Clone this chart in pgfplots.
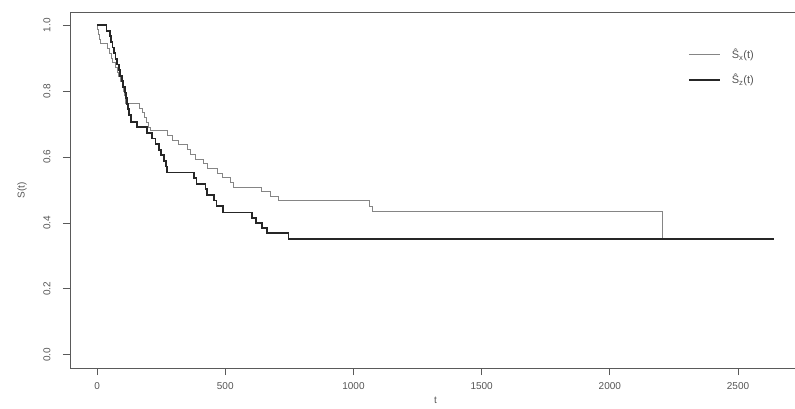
\documentclass[border=0pt]{standalone}
\usepackage{fontspec}
\setmainfont{Liberation Sans}
\usepackage{pgfplots}
\usepackage{pgfplotstable}
\pgfplotsset{compat=1.18}

\pgfplotstableread{
t S
0 1.000
2 0.986
5 0.971
9 0.957
15 0.943
40 0.929
48 0.914
55 0.900
62 0.886
70 0.871
78 0.857
85 0.843
92 0.829
98 0.814
102 0.800
107 0.786
111 0.763
167 0.748
176 0.734
184 0.719
192 0.704
200 0.690
209 0.680
274 0.666
293 0.651
319 0.637
352 0.623
364 0.609
384 0.594
416 0.580
429 0.566
468 0.551
488 0.537
520 0.523
533 0.508
643 0.494
676 0.481
708 0.467
1063 0.451
1076 0.434
2204 0.353
2640 0.353
}\sx

\pgfplotstableread{
t S
0 1.000
37 0.983
50 0.966
55 0.949
60 0.932
66 0.915
72 0.898
78 0.881
84 0.864
90 0.847
96 0.830
102 0.813
108 0.796
114 0.779
118 0.762
122 0.745
126 0.728
131 0.707
157 0.690
196 0.673
215 0.656
228 0.639
240 0.622
250 0.605
261 0.588
268 0.571
274 0.553
379 0.536
388 0.519
423 0.502
429 0.485
455 0.468
466 0.451
490 0.432
605 0.416
620 0.400
644 0.385
663 0.369
747 0.352
2640 0.352
}\sz

\definecolor{lgray}{HTML}{858585}
\definecolor{dline}{HTML}{262626}
\definecolor{axcol}{HTML}{5A5A5A}
\definecolor{txtcol}{HTML}{555555}

\begin{document}
\begin{tikzpicture}[x=1pt,y=1pt]
\useasboundingbox (0,0) rectangle (795,408);
\clip (0,0) rectangle (795,408);
\begin{axis}[
  at={(70pt,40pt)}, anchor=south west,
  scale only axis, width=731pt, height=356pt,
  xmin=-105.6, xmax=2745.6, ymin=-0.04, ymax=1.04,
  xtick={0,500,1000,1500,2000,2500},
  ytick={0,0.2,0.4,0.6,0.8,1.0},
  xtick pos=lower, ytick pos=left,
  tick align=outside, major tick length=7pt,
  axis line style={axcol, line width=0.9pt},
  tick style={axcol, line width=0.9pt},
  /pgf/number format/assume math mode=true,
  /pgf/number format/1000 sep={},
  yticklabel={\pgfmathprintnumber[fixed,fixed zerofill,precision=1]{\tick}},
  ticklabel style={font=\fontsize{10}{12}\selectfont, text=txtcol},
  xticklabel style={anchor=center, yshift=-11pt},
  yticklabel style={xshift=-16pt, rotate=90, anchor=center},
  xlabel={t}, ylabel={S(t)},
  label style={font=\fontsize{10}{12}\selectfont, text=txtcol},
  x label style={at={(axis description cs:0.5,0)}, anchor=center, yshift=-32pt},
  y label style={at={(axis description cs:0,0.5)}, anchor=center, yshift=48pt},
  legend style={at={(rel axis cs:0.841,0.905)}, anchor=north west, draw=none, fill=none,
    font=\fontsize{11}{12}\selectfont, text=txtcol, row sep=12pt, column sep=10pt,
    nodes={inner sep=1pt}},
  legend cell align=left,
  legend image code/.code={\draw[#1] (0pt,0pt) -- (31pt,0pt);},
]
\addplot[const plot, lgray, line width=1pt] table[x=t,y=S]{\sx};
\addlegendentry{Ŝ\textsubscript{x}(t)}
\addplot[const plot, dline, line width=1.8pt] table[x=t,y=S]{\sz};
\addlegendentry{Ŝ\textsubscript{z}(t)}
\end{axis}
\end{tikzpicture}
\end{document}
